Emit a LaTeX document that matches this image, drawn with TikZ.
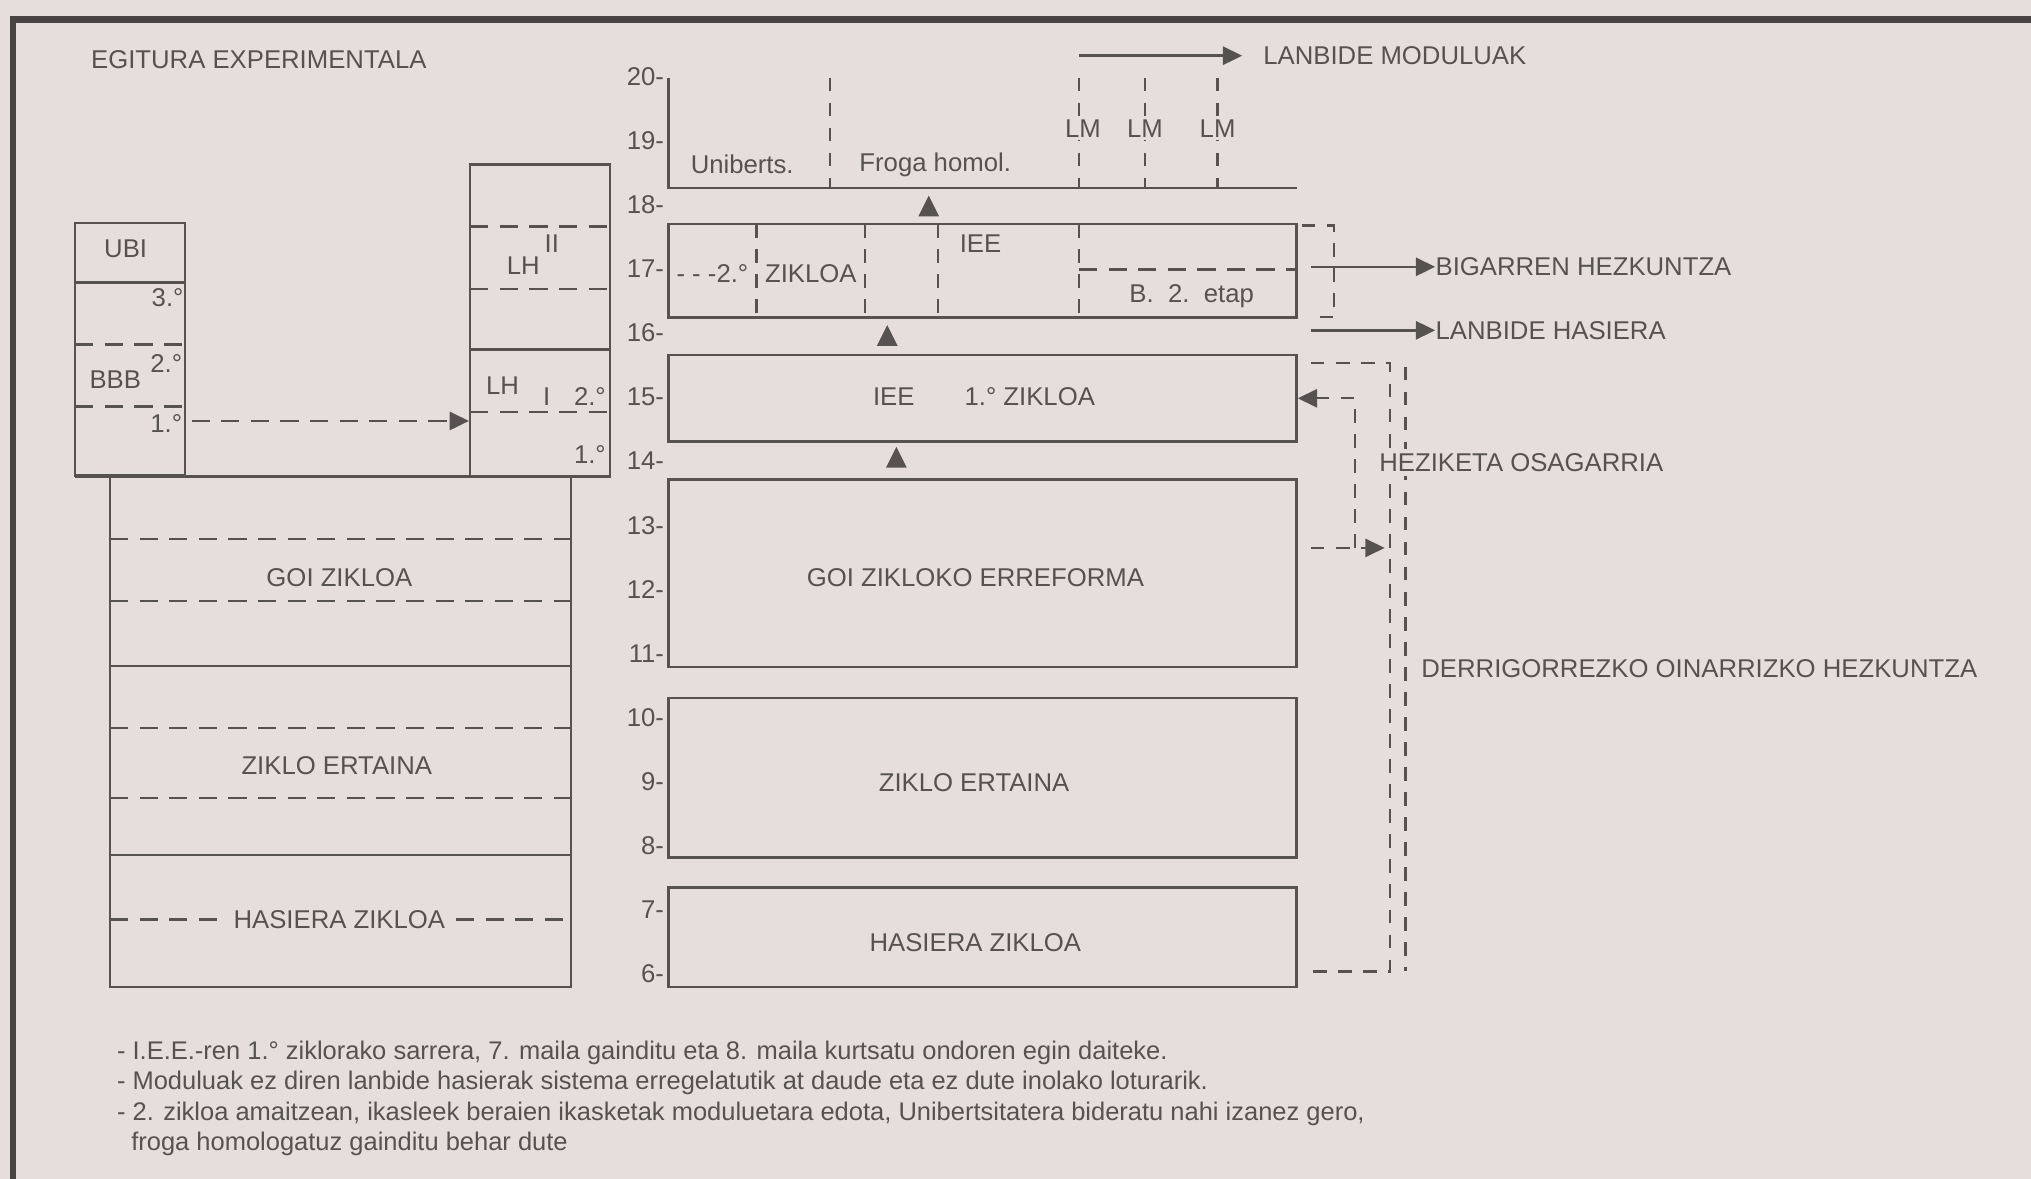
\documentclass[tikz,border=0pt]{standalone}
\usepackage{fontspec}
\setmainfont{Liberation Sans}
\usetikzlibrary{arrows.meta,fit,calc}
\definecolor{bg}{HTML}{E5DEDD}
\definecolor{ink}{HTML}{575252}
\definecolor{frame}{HTML}{494444}
\begin{document}
\begin{tikzpicture}[x=0.02cm,y=-0.02cm,
  font=\fontsize{11.3}{13.5}\selectfont,
  box/.style={draw=ink, line width=1.1pt, inner sep=0pt},
  ln/.style={draw=ink, line width=1.1pt},
  dsh/.style={draw=ink, line width=1.1pt, dash pattern=on 8pt off 5pt},
  vdsh/.style={draw=ink, line width=1pt, dash pattern=on 6pt off 5pt},
  tip/.style={-{Triangle[length=8.5pt,width=8pt]}},
  lbl/.style={inner sep=0pt, text=ink},
  mask/.style={inner sep=1.5pt, fill=bg, text=ink},
  note/.style={inner sep=0pt, text=ink, anchor=west, font=\fontsize{11.2}{13}\selectfont}]
\fill[bg] (0,0) rectangle (1568,910);
\useasboundingbox (0,0) rectangle (1568,910);
% frame
\draw[frame, line width=2.8pt] (10,910) -- (10,15) -- (1568,15);
\node[lbl, anchor=west] (title) at (70,46) {EGITURA EXPERIMENTALA};

% ---------- left structure ----------
\node[box, fit={(58,172)(143,367)}] (ubi) {};
\draw[ln] (58,218) -- (143,218);
\draw[dsh] (58,266) -- (143,266);
\draw[dsh] (58,314) -- (143,314);
\node[lbl] (tubi) at (97,192) {UBI};
\node[lbl, anchor=east] (t3) at (142,230) {3.°};
\node[lbl, anchor=east] (t2) at (141,281) {2.°};
\node[lbl] (tbbb) at (89,293) {BBB};
\node[lbl, anchor=east] (t1) at (141,327) {1.°};

\node[box, fit={(363,127)(471,368)}] (lh) {};
\draw[dsh] (363,175) -- (471,175);
\draw[dsh] (363,223) -- (471,223);
\draw[ln] (363,270) -- (471,270);
\draw[dsh] (363,318) -- (471,318);
\node[lbl] (tlh2) at (404,205) {LH};
\node[lbl] (tii) at (426,188) {II};
\node[lbl] (tlh1) at (388,298) {LH};
\node[lbl] (ti) at (422,306) {I};
\node[lbl, anchor=east] (tlh2o) at (468,306) {2.°};
\node[lbl, anchor=east] (tlh1o) at (468,351) {1.°};

\coordinate (a1) at (148,325);
\draw[dsh, tip] (a1) -- (lh.west |- a1);

\draw[ln] (58,368) -- (471,368);
\node[box, fit={(85,368)(441,762)}] (old) {};
\draw[dsh] (85,416) -- (441,416);
\draw[dsh] (85,464) -- (441,464);
\draw[ln] (85,514) -- (441,514);
\draw[dsh] (85,562) -- (441,562);
\draw[dsh] (85,616) -- (441,616);
\draw[ln] (85,660) -- (441,660);
\draw[dsh] (85,710) -- (173,710);
\draw[dsh] (352,710) -- (441,710);
\node[lbl] (ogoi) at (262,446) {GOI ZIKLOA};
\node[lbl] (oert) at (260,591) {ZIKLO ERTAINA};
\node[lbl] (ohas) at (262,710) {HASIERA ZIKLOA};

% ---------- scale ----------
\foreach \v in {6,...,20}{
  \node[lbl, anchor=east] (s\v) at (513,{59+(20-\v)*49.5}) {\v-};
}

% ---------- top structure ----------
\draw[ln] (516,60) -- (516,145) -- (1001,145);
\foreach \xx in {641,833,884,940}{
  \draw[vdsh] (\xx,60) -- (\xx,145);
}
\node[mask] (lm1) at (836,99) {LM};
\node[mask] (lm2) at (884,99) {LM};
\node[mask] (lm3) at (940,99) {LM};
\node[lbl] (uni) at (573,127) {Uniberts.};
\node[lbl] (froga) at (722,127) {Froga homol.};

\coordinate (lmS) at (833,43);
\node[lbl, anchor=west] (lmod) at (975,43) {LANBIDE MODULUAK};
\draw[ln, tip] (lmS) -- ($(lmod.west)+(-16,0)$);

% ---------- central boxes ----------
\node[box, fit={(516,173)(1001,245)}] (iee2) {};
\foreach \xx in {584,668,724,833}{
  \draw[vdsh] (\xx,173) -- (\xx,245);
}
\draw[dsh] (833,208) -- (1001,208);
\node[lbl] (t2z) at (550,211) {- - -2.°};
\node[lbl] (tzik) at (626,211) {ZIKLOA};
\node[lbl] (tiee2) at (757,188) {IEE};
\node[lbl] (tb2) at (920,229) {B.\ \ 2.\ \ etap};

\node[box, fit={(516,274)(1001,341)}] (iee1) {};
\node[lbl] (tiee1) at (690,306) {IEE};
\node[lbl] (tz1) at (795,306) {1.° ZIKLOA};

\node[box, fit={(516,370)(1001,515)}] (goi) {};
\node[lbl] (tgoi) at (753,446) {GOI ZIKLOKO ERREFORMA};
\node[box, fit={(516,539)(1001,662)}] (ert) {};
\node[lbl] (tert) at (752,604) {ZIKLO ERTAINA};
\node[box, fit={(516,685)(1001,762)}] (has) {};
\node[lbl] (thas) at (753,728) {HASIERA ZIKLOA};

% up triangles
\fill[ink] (709,167) -- (725,167) -- (717,151) -- cycle;
\fill[ink] (677,267) -- (693,267) -- (685,251) -- cycle;
\fill[ink] (684,361) -- (700,361) -- (692,345) -- cycle;

% ---------- right side ----------
\draw[vdsh] (1005,174) -- (1030,174) -- (1030,245) -- (1015,245);
\coordinate (bhS) at (1012,206);
\node[lbl, anchor=west] (bh) at (1108,206) {BIGARREN HEZKUNTZA};
\draw[ln, tip] (bhS) -- (bh.west);
\coordinate (lhS) at (1012,255);
\node[lbl, anchor=west] (lhas) at (1108,255) {LANBIDE HASIERA};
\draw[ln, tip] (lhS) -- (lhas.west);

\draw[vdsh] (1012,280) -- (1073,280) -- (1073,750) -- (1012,750);
\draw[vdsh] (1085,283) -- (1085,750);
\node[mask, anchor=west, inner sep=2pt] (hez) at (1061,357) {HEZIKETA OSAGARRIA};
\node[lbl, anchor=west] (doh) at (1097,516) {DERRIGORREZKO OINARRIZKO HEZKUNTZA};

\coordinate (hc) at (1046,423);
\draw[vdsh, tip] (hc) -- (hc |- iee1.east) -- (iee1.east);
\coordinate (hS) at (1012,423);
\coordinate (hE) at (1069,423);
\draw[vdsh, tip] (hS) -- (hE);

% ---------- notes ----------
\node[note] (n1) at (90,813) {- I.E.E.-ren 1.° ziklorako sarrera, 7. maila gainditu eta 8. maila kurtsatu ondoren egin daiteke.};
\node[note] (n2) at (90,836) {- Moduluak ez diren lanbide hasierak sistema erregelatutik at daude eta ez dute inolako loturarik.};
\node[note] (n3) at (90,860) {- 2. zikloa amaitzean, ikasleek beraien ikasketak moduluetara edota, Unibertsitatera bideratu nahi izanez gero,};
\node[note] (n4) at (101,883) {froga homologatuz gainditu behar dute};
\end{tikzpicture}
\end{document}
